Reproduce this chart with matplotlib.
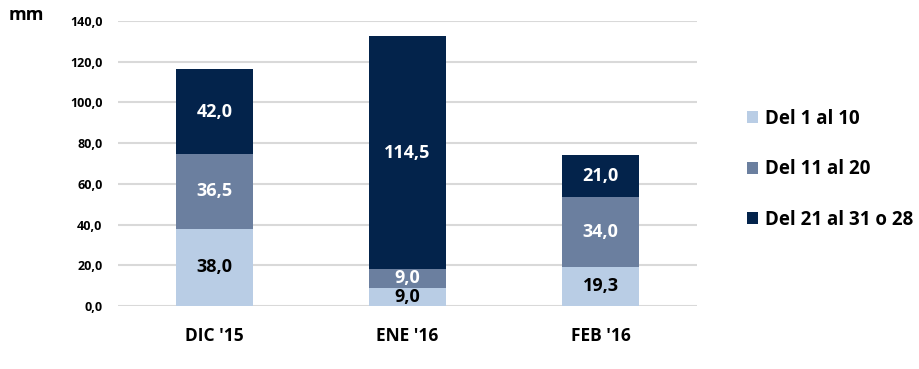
import numpy as np
import matplotlib.pyplot as plt
from matplotlib.patches import Patch

categories = ["DIC '15", "ENE '16", "FEB '16"]
series_names = ['Del 1 al 10', 'Del 11 al 20', 'Del 21 al 31 o 28']
del_1_10 = [38.0, 9.0, 19.3]
del_11_20 = [36.5, 9.0, 34.0]
del_21_31 = [42.0, 114.5, 21.0]
y_ticks = [0, 20, 40, 60, 80, 100, 120, 140]

colors = ['#b9cde5', '#6b7f9f', '#03234b']
label_colors = ['#000000', '#ffffff', '#ffffff']

plt.rcParams['font.family'] = ['Open Sans', 'DejaVu Sans']

fig = plt.figure(figsize=(9.2, 3.69), dpi=100)
ax = fig.add_axes([0.128, 0.171, 0.63, 0.772])

x = np.arange(len(categories))
bottom = np.zeros(len(categories))
for vals, c, lc in zip([del_1_10, del_11_20, del_21_31], colors, label_colors):
    vals = np.array(vals)
    ax.bar(x, vals, 0.4, bottom=bottom, color=c, zorder=3)
    for xi, b, v in zip(x, bottom, vals):
        ax.text(xi, b + v / 2, f'{v:.1f}'.replace('.', ','), ha='center', va='center',
                color=lc, fontsize=13, fontweight='bold', zorder=4)
    bottom += vals

ax.set_xlim(-0.5, 2.5)
ax.set_ylim(0, 140)
ax.set_yticks(y_ticks)
ax.set_yticklabels([f'{t:.1f}'.replace('.', ',') for t in y_ticks], fontsize=9, fontweight='bold')
ax.set_xticks(x)
ax.set_xticklabels(categories, fontsize=12.5, fontweight='bold')
ax.tick_params(axis='both', length=0)
ax.tick_params(axis='y', pad=11)
ax.tick_params(axis='x', pad=15)
ax.grid(axis='y', color='#d9d9d9', linewidth=1.5, zorder=0)
for s in ax.spines.values():
    s.set_visible(False)
ax.set_axisbelow(True)

fig.text(0.009, 0.958, 'mm', fontsize=13, fontweight='bold', va='center')

handles = [Patch(facecolor=c) for c in colors]
fig.legend(handles, series_names, loc='center left', bbox_to_anchor=(0.812, 0.541),
           frameon=False, prop={'size': 13.5, 'weight': 'bold'},
           borderpad=0, borderaxespad=0,
           handlelength=0.6, handleheight=0.6, handletextpad=0.35, labelspacing=1.62)

fig.savefig('out.png', dpi=100)
